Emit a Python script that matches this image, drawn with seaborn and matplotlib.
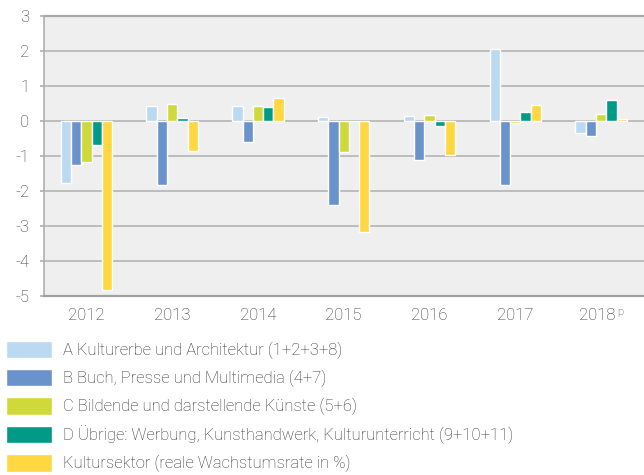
import matplotlib
matplotlib.use("Agg")
import matplotlib.pyplot as plt
import matplotlib.transforms as mtransforms
import seaborn as sns
import pandas as pd

years = ["2012", "2013", "2014", "2015", "2016", "2017", "2018"]
superscripts = ["", "", "", "", "", "", "p"]
series_names = [
    "A Kulturerbe und Architektur (1+2+3+8)",
    "B Buch, Presse und Multimedia (4+7)",
    "C Bildende und darstellende Künste (5+6)",
    "D Übrige: Werbung, Kunsthandwerk, Kulturunterricht (9+10+11)",
    "Kultursektor (reale Wachstumsrate in %)",
]
vals_a = [-1.77, 0.42, 0.42, 0.11, 0.13, 2.05, -0.35]
vals_b = [-1.26, -1.83, -0.61, -2.41, -1.12, -1.83, -0.44]
vals_c = [-1.18, 0.48, 0.42, -0.89, 0.16, -0.07, 0.19]
vals_d = [-0.69, 0.08, 0.39, -0.02, -0.15, 0.25, 0.59]
vals_k = [-4.83, -0.87, 0.65, -3.17, -0.98, 0.45, 0.05]
colors = ["#bcd9f2", "#6a93cc", "#d0d93a", "#009a86", "#ffd740"]
yticks = [3, 2, 1, 0, -1, -2, -3, -4, -5]

rows = []
for name, vals in zip(series_names, [vals_a, vals_b, vals_c, vals_d, vals_k]):
    for y, v in zip(years, vals):
        rows.append({"Jahr": y, "Serie": name, "Wert": v})
df = pd.DataFrame(rows)

sns.set_theme(style="white")
plt.rcParams["font.family"] = ["Roboto", "DejaVu Sans"]
plt.rcParams["font.weight"] = "light"
plt.rcParams["axes.unicode_minus"] = False

fig = plt.figure(figsize=(6.44, 4.75), dpi=100)
ax = fig.add_axes([43.5 / 644, 1 - 295.7 / 475, 1 - 43.5 / 644, (295.7 - 15.7) / 475])
ax.set_facecolor("#efefef")

sns.barplot(data=df, x="Jahr", y="Wert", hue="Serie", palette=colors,
            width=0.6, saturation=1, ax=ax, legend=True, zorder=3)

ax.set_ylim(-5, 3)
ax.set_xlim(-0.5, 6.5)
ax.set_yticks(yticks)
ax.set_yticklabels([str(t) for t in yticks])
ax.set_xlabel("")
ax.set_ylabel("")
ax.yaxis.grid(True, color="#b4b4b4", linewidth=1.2, zorder=0)
ax.set_axisbelow(True)
ax.tick_params(axis="y", length=3, width=1.1, color="#a8a8a8", pad=7,
               labelsize=12, labelcolor="#333333", left=True)
ax.tick_params(axis="x", length=0, pad=9, labelsize=12, labelcolor="#333333")
for s in ["top", "right"]:
    ax.spines[s].set_visible(False)
ax.spines["left"].set_color("#b0b0b0")
ax.spines["left"].set_linewidth(1.2)
ax.spines["bottom"].set_color("#a0a0a0")
ax.spines["bottom"].set_linewidth(1.6)
ax.axhline(3, color="#a8a8a8", linewidth=1.6, zorder=1, clip_on=False)

for i, (lbl, sup) in enumerate(zip(ax.get_xticklabels(), superscripts)):
    if sup:
        lbl.set_transform(lbl.get_transform() +
                          mtransforms.ScaledTranslation(-4 / 100, 0, fig.dpi_scale_trans))
        ax.annotate(sup, xy=(i, 0), xycoords=("data", "axes fraction"),
                    xytext=(11.3, -8.0), textcoords="offset points",
                    fontsize=8, color="#333333", ha="left", va="top")

handles, labels = ax.get_legend_handles_labels()
ax.get_legend().remove()
leg = fig.legend(handles, labels, loc="upper left",
                 bbox_to_anchor=(6 / 644, 1 - 340.5 / 475), frameon=False,
                 borderpad=0, borderaxespad=0, fontsize=12,
                 handlelength=2.76, handleheight=1.25, labelspacing=0.6,
                 handletextpad=0.66)
for t in leg.get_texts():
    t.set_color("#333333")

fig.savefig("out.png", dpi=100)
